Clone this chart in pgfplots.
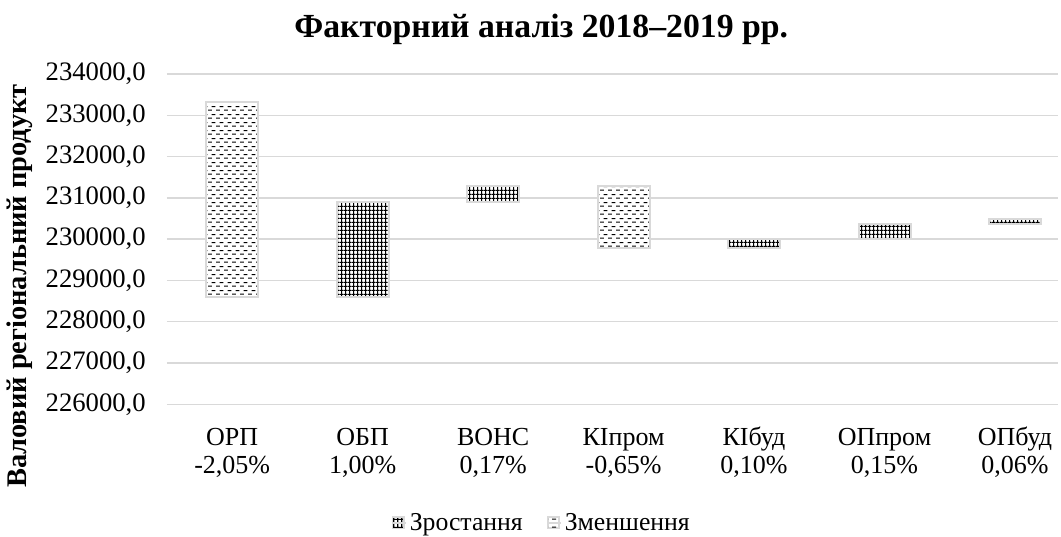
\documentclass[border=0pt]{standalone}
\usepackage{pgfplots}
\pgfplotsset{compat=1.18}
\usetikzlibrary{patterns}
\usepackage{fontspec}
\setmainfont{Liberation Serif}
\newfontfamily\tnr{Liberation Serif}
\definecolor{gridgray}{HTML}{D9D9D9}
\definecolor{bordergray}{HTML}{D9D9D9}

\pgfdeclarepatternformonly{dashh}{\pgfpointorigin}{\pgfpoint{6pt}{6pt}}{\pgfpoint{6pt}{6pt}}{%
  \pgfsetlinewidth{0.8pt}%
  \pgfpathmoveto{\pgfpoint{0pt}{1.5pt}}\pgfpathlineto{\pgfpoint{3.2pt}{1.5pt}}%
  \pgfpathmoveto{\pgfpoint{3pt}{4.5pt}}\pgfpathlineto{\pgfpoint{6.2pt}{4.5pt}}%
  \pgfusepath{stroke}}
\pgfdeclarepatternformonly{sgrid}{\pgfpointorigin}{\pgfpoint{3pt}{3pt}}{\pgfpoint{3pt}{3pt}}{%
  \pgfsetlinewidth{0.9pt}%
  \pgfpathmoveto{\pgfpoint{-0.5pt}{1.5pt}}\pgfpathlineto{\pgfpoint{3.5pt}{1.5pt}}%
  \pgfpathmoveto{\pgfpoint{1.5pt}{-0.5pt}}\pgfpathlineto{\pgfpoint{1.5pt}{3.5pt}}%
  \pgfusepath{stroke}}

\begin{document}
\begin{tikzpicture}
\begin{axis}[
  scale only axis, width=668.25pt, height=247.7pt,
  ybar stacked, bar width=39pt,
  xmin=-0.5, xmax=6.33,
  ymin=226000, ymax=234000,
  scaled y ticks=false,
  ytick={226000,227000,228000,229000,230000,231000,232000,233000,234000},
  yticklabels={{226000,0},{227000,0},{228000,0},{229000,0},{230000,0},{231000,0},{232000,0},{233000,0},{234000,0}},
  xtick={0,...,6},
  xticklabels={{\strut ОРП\\\strut -2,05\%},{\strut ОБП\\\strut 1,00\%},{\strut ВОНС\\\strut 0,17\%},{\strut КІпром\\\strut -0,65\%},{\strut КІбуд\\\strut 0,10\%},{\strut ОПпром\\\strut 0,15\%},{\strut ОПбуд\\\strut 0,06\%}},
  axis line style={draw=none}, major tick length=0pt,
  ymajorgrids, grid style={gridgray, line width=1pt},
  yticklabel style={font=\tnr\fontsize{20}{24}\selectfont, anchor=east, inner sep=0pt, xshift=-15.75pt},
  xticklabel style={font=\tnr\fontsize{19.5}{21}\selectfont, align=center, anchor=north, inner sep=0pt, yshift=-15.8pt},
  title={Факторний аналіз 2018–2019 рр.},
  title style={font=\tnr\bfseries\fontsize{25.3}{28}\selectfont, at={(0.42,1)}, anchor=base, yshift=21.75pt},
  ylabel={Валовий регіональний продукт},
  ylabel style={font=\tnr\bfseries\fontsize{21.3}{24}\selectfont, at={(-0.165,0.358)}, anchor=center},
  legend style={at={(0.421,0)}, anchor=center, yshift=-89pt, draw=none, fill=none,
    legend columns=2, font=\tnr\fontsize{19.3}{22}\selectfont,
    /tikz/every even column/.append style={column sep=16pt}},
  legend image code/.code={\draw[#1, line width=1pt] (0pt,-4.1pt) rectangle (8.25pt,4.1pt); \path (0pt,0pt) -- (10pt,0pt);},
]
\addplot[draw=none, fill=none, forget plot] coordinates {(0,228608) (1,228608) (2,230893) (3,229782) (4,229782) (5,230012) (6,230357)};
\addplot[draw=bordergray, line width=1.5pt, preaction={fill=white}, pattern=sgrid] coordinates {(0,0) (1,2285) (2,392) (3,0) (4,230) (5,345) (6,138)};
\addlegendentry{Зростання}
\addplot[draw=bordergray, line width=1.5pt, preaction={fill=white}, pattern=dashh] coordinates {(0,4707) (1,0) (2,0) (3,1503) (4,0) (5,0) (6,0)};
\addlegendentry{Зменшення}
\coordinate (o) at (rel axis cs:0,0);
\end{axis}
\pgfresetboundingbox
\path[use as bounding box] ([shift={(-125.25pt,-98.8pt)}]o) rectangle ([shift={(670.5pt,303.2pt)}]o);
\end{tikzpicture}
\end{document}
